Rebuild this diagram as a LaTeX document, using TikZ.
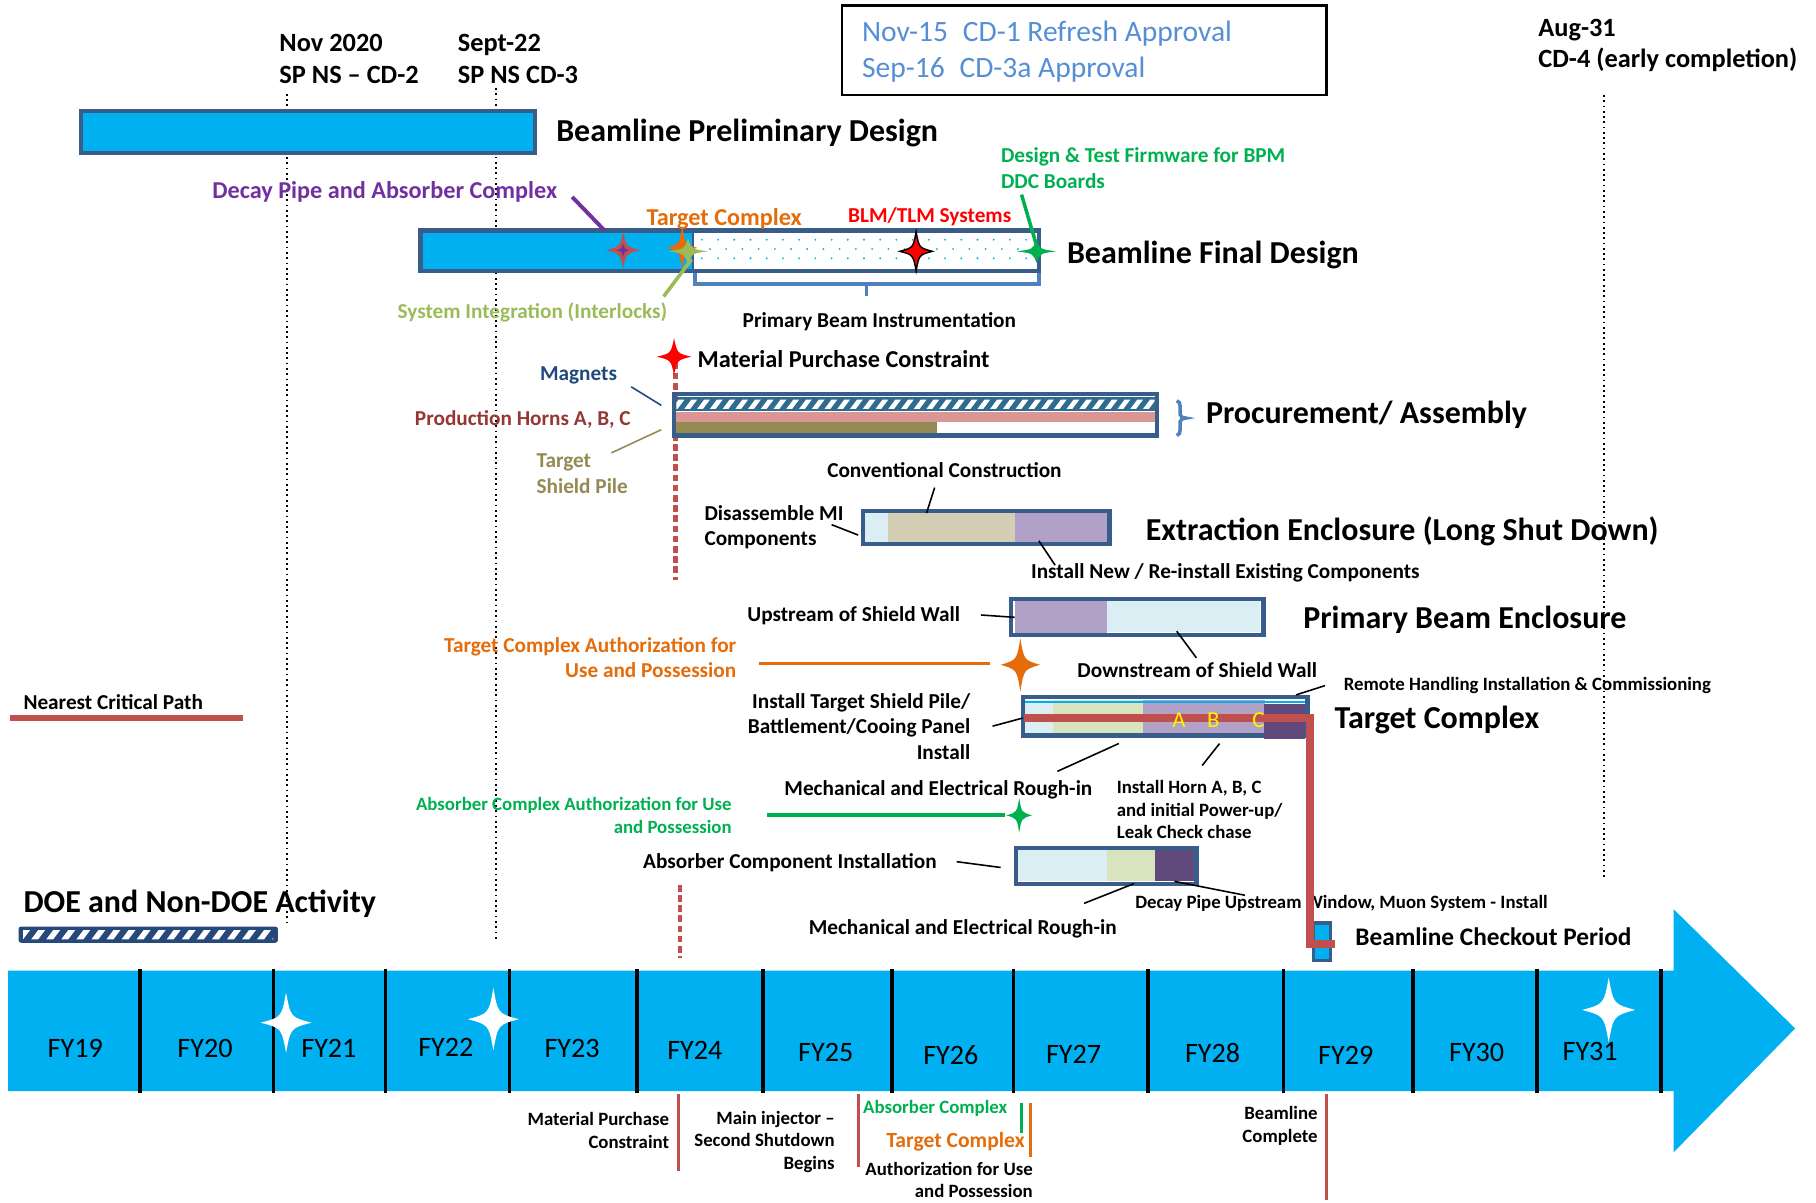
\documentclass[tikz,border=0pt]{standalone}
\usepackage{fontspec}
\setmainfont{Carlito}
\usetikzlibrary{calc}

\definecolor{axisblue}{HTML}{00B0F0}
\definecolor{barline}{HTML}{385D8A}
\definecolor{brblue}{HTML}{4F81BD}
\definecolor{boxtext}{HTML}{558ED5}
\definecolor{dpurple}{HTML}{7030A0}
\definecolor{tcorange}{HTML}{E46C0A}
\definecolor{bpmgreen}{HTML}{00B050}
\definecolor{sigreen}{HTML}{9BBB59}
\definecolor{magblue}{HTML}{1F497D}
\definecolor{hornred}{HTML}{953735}
\definecolor{pileolive}{HTML}{948A54}
\definecolor{critred}{HTML}{C0504D}
\definecolor{hatchblue}{HTML}{2E6B8F}
\definecolor{doenavy}{HTML}{24497A}
\definecolor{pinkband}{HTML}{D99694}
\definecolor{ltblue}{HTML}{DAEEF3}
\definecolor{beige}{HTML}{D4CFB4}
\definecolor{lavender}{HTML}{B2A1C7}
\definecolor{ltgreen}{HTML}{D7E4BD}
\definecolor{dkpurple}{HTML}{604A7B}

\tikzset{
  big/.style={font=\bfseries\fontsize{18.2}{21}\selectfont},
  mid/.style={font=\bfseries\fontsize{15}{17.8}\selectfont},
  lbl/.style={font=\bfseries\fontsize{12.1}{14.5}\selectfont},
  bigger/.style={font=\bfseries\fontsize{13.8}{16}\selectfont},
  small/.style={font=\bfseries\fontsize{10.7}{12.8}\selectfont},
  fy/.style={font=\fontsize{16}{19}\selectfont},
  bar/.style={draw=barline, line width=2.4pt},
  lead/.style={line width=0.9pt},
  critpath/.style={critred, line width=4.2pt},
  redmark/.style={critred, line width=1.6pt},
  every node/.style={inner sep=0pt},
}

% four point star: x, y, half width, half height, options
\newcommand{\sparkle}[5]{%
  \path[#5] (#1,#2-#4) .. controls (#1+0.18*#3,#2-0.18*#4) .. (#1+#3,#2)
    .. controls (#1+0.18*#3,#2+0.18*#4) .. (#1,#2+#4)
    .. controls (#1-0.18*#3,#2+0.18*#4) .. (#1-#3,#2)
    .. controls (#1-0.18*#3,#2-0.18*#4) .. (#1,#2-#4) -- cycle;}

\begin{document}
\begin{tikzpicture}[x=0.023163cm,y=-0.023163cm]
\useasboundingbox (0,0) rectangle (1568,1038);

% milestone date lines
\draw[dotted, line width=1pt] (248,81) -- (248,797);
\draw[dotted, line width=1pt] (428,76) -- (428,811);
\draw[dotted, line width=1pt] (1385,82) -- (1385,757);

\node[mid, anchor=west, align=left] (cd2) at (241,51) {Nov 2020\\SP NS -- CD-2};
\node[mid, anchor=west, align=left] (cd3) at (395,51) {Sept-22\\SP NS CD-3};
\node[mid, anchor=west, align=left] (cd4) at (1328,39) {Aug-31\\CD-4 (early completion)};

\draw[line width=1.6pt] (727,5) rectangle (1145,82);
\node[anchor=west, boxtext, font=\fontsize{16.8}{18}\selectfont] (cd1) at (744,29) {Nov-15\enspace CD-1 Refresh Approval};
\node[anchor=west, boxtext, font=\fontsize{16.8}{18}\selectfont] (cd3a) at (744,60) {Sep-16\enspace CD-3a Approval};

% preliminary design
\draw[bar, fill=axisblue] (70,96) rectangle (462,132);
\node[big, anchor=west] (prelim) at (480,115) {Beamline Preliminary Design};

% final design
\draw[brblue, line width=2pt] (600,201) -- (600,245) -- (897,245) -- (897,201);
\draw[brblue, line width=2pt] (748,245) -- (748,256);
\fill[axisblue] (363,199) rectangle (598,234);
\fill[white] (598,199) rectangle (897,234);
\foreach \y/\s in {207/0,215/7,223/0}
  \foreach \x in {606,620,...,890}
    \fill[axisblue] (\x+\s,\y) circle (0.9);
\draw[barline, line width=1.2pt] (598,199) -- (598,234);
\draw[bar] (363,199) rectangle (897,234);
\node[big, anchor=west] (final) at (921,220) {Beamline Final Design};
\node[lbl, anchor=west] (pbi) at (641,278) {Primary Beam Instrumentation};

\node[bigger, anchor=west, dpurple] (decay) at (183,166) {Decay Pipe and Absorber Complex};
\coordinate (decayA) at (494,170);
\coordinate (decayB) at (522,199);
\draw[dpurple, line width=2.2pt] (decayA) -- (decayB);
\node[bigger, anchor=west, tcorange] (tgt) at (558,189) {Target Complex};
\node[lbl, anchor=west, red] (blm) at (732,187) {BLM/TLM Systems};
\node[lbl, anchor=west, align=left, bpmgreen] (bpm) at (864,145) {Design \& Test Firmware for BPM\\DDC Boards};
\coordinate (bpmA) at (882,168);
\coordinate (bpmB) at (895,212);
\draw[bpmgreen, line width=2pt] (bpmA) -- (bpmB);
\node[lbl, anchor=west, sigreen] (sysint) at (343,270) {System Integration (Interlocks)};
\coordinate (sysA) at (573,256);
\coordinate (sysB) at (597,224);
\draw[sigreen, line width=2pt] (sysA) -- (sysB);

\sparkle{538}{216}{15}{16}{fill=critred}
\sparkle{538}{216}{6}{6}{fill=dpurple}
\sparkle{589}{214}{13}{19}{fill=tcorange}
\sparkle{594}{217}{17}{11}{fill=sigreen}
\sparkle{791}{217}{14}{17}{fill=red, draw=black, line width=0.8pt}
\sparkle{895}{217}{17}{10}{fill=bpmgreen}

% procurement / assembly
\draw[critred, dashed, dash pattern=on 3.8pt off 2pt, line width=2.6pt] (583,313) -- (583,501);
\draw[critred, dashed, dash pattern=on 3.8pt off 2pt, line width=2.6pt] (587,764) -- (587,827);
\sparkle{582}{308}{15}{16}{fill=red}
\node[bigger, anchor=west] (mpc) at (602,310) {Material Purchase Constraint};

\fill[hatchblue] (582,343) rectangle (999,355);
\begin{scope}
  \clip (584,345) rectangle (997,353);
  \foreach \x in {580,591,...,1000}
    \fill[white] (\x,353) -- (\x+5,353) -- (\x+11,345) -- (\x+6,345) -- cycle;
\end{scope}
\fill[pinkband] (582,356) rectangle (1001,364);
\fill[pileolive] (583,364) rectangle (809,374);
\draw[bar] (582,340) rectangle (999,376);
\draw[brblue, line width=2pt] (1016,346) to[out=0,in=90] (1019,351) -- (1019,358)
  to[out=-90,in=180] (1024,361) to[out=180,in=90] (1019,364) -- (1019,371)
  to[out=-90,in=0] (1016,376);
\node[big, anchor=west] (proc) at (1041,358) {Procurement/ Assembly};

\node[lbl, anchor=west, magblue] (mag) at (466,324) {Magnets};
\coordinate (magA) at (545,334);
\coordinate (magB) at (571,350);
\draw[lead, magblue] (magA) -- (magB);
\node[lbl, anchor=west, hornred] (horn) at (358,362) {Production Horns A, B, C};
\node[lbl, anchor=west, align=left, pileolive] (pile) at (463,409) {Target\\Shield Pile};
\coordinate (pileA) at (528,391);
\coordinate (pileB) at (571,371);
\draw[lead, pileolive] (pileA) -- (pileB);

% extraction enclosure
\fill[ltblue] (745,442) rectangle (767,469);
\fill[beige] (767,442) rectangle (876,469);
\fill[lavender] (876,442) rectangle (957,469);
\draw[bar] (745,441) rectangle (958,470);
\node[big, anchor=west] (extr) at (989,459) {Extraction Enclosure (Long Shut Down)};
\node[lbl, anchor=west] (conv) at (714,406) {Conventional Construction};
\coordinate (convA) at (807,421);
\coordinate (convB) at (800,443);
\draw[lead] (convA) -- (convB);
\node[lbl, anchor=west, align=left] (disas) at (608,455) {Disassemble MI\\Components};
\coordinate (disA) at (718,453);
\coordinate (disB) at (741,462);
\draw[lead] (disA) -- (disB);
\node[lbl, anchor=west] (inst) at (890,495) {Install New / Re-install Existing Components};
\coordinate (instA) at (897,467);
\coordinate (instB) at (911,488);
\draw[lead] (instA) -- (instB);

% primary beam enclosure
\fill[lavender] (876,518) rectangle (956,549);
\fill[ltblue] (956,518) rectangle (1088,546);
\draw[bar] (873,517) rectangle (1091,548);
\node[big, anchor=west] (pbe) at (1125,535) {Primary Beam Enclosure};
\node[lbl, anchor=west] (up) at (645,532) {Upstream of Shield Wall};
\coordinate (upA) at (847,531);
\coordinate (upB) at (876,533);
\draw[lead] (upA) -- (upB);
\node[lbl, anchor=west] (down) at (930,579) {Downstream of Shield Wall};
\coordinate (downA) at (1016,545);
\coordinate (downB) at (1033,568);
\draw[lead] (downA) -- (downB);

\node[lbl, anchor=east, align=right, tcorange] (tcauth) at (636,568) {Target Complex Authorization for\\Use and Possession};
\coordinate (tcA) at (655,573);
\coordinate (tcB) at (855,573);
\draw[tcorange, line width=1.3pt] (tcA) -- (tcB);
\sparkle{881}{574}{17}{23}{fill=tcorange}

% critical path legend
\node[lbl, anchor=west] (ncp) at (20,606) {Nearest Critical Path};
\coordinate (ncpA) at (9,620);
\coordinate (ncpB) at (210,620);
\draw[critred, line width=3.2pt] (ncpA) -- (ncpB);

% target complex
\fill[ltblue] (884,604) rectangle (909,634);
\fill[ltgreen] (909,604) rectangle (987,634);
\fill[lavender] (987,604) rectangle (1092,634);
\draw[bar] (883,602) rectangle (1129,635);
\fill[axisblue] (885,605) rectangle (1127,607);
\fill[dkpurple] (1091,608) rectangle (1127,638);
\coordinate (cpA) at (884,620);
\coordinate (cpB) at (1131,620);
\coordinate (cpC) at (1131,815);
\node[big, anchor=west] (tcx) at (1152,622) {Target Complex};
\node[small, anchor=west] (rh) at (1160,592) {Remote Handling Installation \& Commissioning};
\coordinate (rhA) at (1119,600);
\coordinate (rhB) at (1144,592);
\draw[lead] (rhA) -- (rhB);
\node[lbl, anchor=east, align=right] (tsp) at (838,627) {Install Target Shield Pile/\\Battlement/Cooing Panel\\Install};
\coordinate (tspA) at (857,627);
\coordinate (tspB) at (883,620);
\draw[lead] (tspA) -- (tspB);
\node[lbl, anchor=west] (mer1) at (677,682) {Mechanical and Electrical Rough-in};
\coordinate (merA) at (913,666);
\coordinate (merB) at (966,642);
\draw[lead] (merA) -- (merB);
\node[small, anchor=west, align=left] (ihorn) at (964,699) {Install Horn A, B, C\\and initial Power-up/\\Leak Check chase};
\coordinate (ihA) at (1038,661);
\coordinate (ihB) at (1053,642);
\draw[lead] (ihA) -- (ihB);

\node[small, anchor=east, align=right, bpmgreen] (acauth) at (632,704) {Absorber Complex Authorization for Use\\and Possession};
\coordinate (acA) at (662,704);
\coordinate (acB) at (868,704);
\draw[bpmgreen, line width=2.4pt] (acA) -- (acB);
\sparkle{880}{704}{11}{15}{fill=bpmgreen}

% absorber
\fill[ltblue] (878,734) rectangle (956,761);
\fill[ltgreen] (956,734) rectangle (997,761);
\fill[dkpurple] (997,734) rectangle (1032,761);
\draw[bar] (877,732) rectangle (1033,763);
\node[lbl, anchor=west] (abs) at (555,745) {Absorber Component Installation};
\coordinate (absA) at (826,744);
\coordinate (absB) at (864,749);
\draw[lead] (absA) -- (absB);
\node[small, anchor=west] (muon) at (980,780) {Decay Pipe Upstream Window, Muon System - Install};
\coordinate (muA) at (1014,761);
\coordinate (muB) at (1075,773);
\draw[lead] (muA) -- (muB);
\node[lbl, anchor=west] (mer2) at (698,802) {Mechanical and Electrical Rough-in};
\coordinate (mer2A) at (936,780);
\coordinate (mer2B) at (979,763);
\draw[lead] (mer2A) -- (mer2B);

% checkout and critical path
\draw[draw=barline, line width=1.8pt, fill=axisblue] (1134,797) rectangle (1149,829);
\coordinate (cpD) at (1153,815);
\draw[critpath] (cpA) -- (cpB) -- (cpC) -- (cpD);
\node[anchor=west, yellow, font=\fontsize{13}{14}\selectfont] (hA) at (1012,622) {A};
\node[anchor=west, yellow, font=\fontsize{13}{14}\selectfont] (hB) at (1042,622) {B};
\node[anchor=west, yellow, font=\fontsize{13}{14}\selectfont] (hC) at (1081,622) {C};
\node[font=\bfseries\fontsize{14.4}{16}\selectfont, anchor=west] (chk) at (1170,809) {Beamline Checkout Period};

% DOE legend
\node[big, anchor=west] (doe) at (20,780) {DOE and Non-DOE Activity};
\fill[doenavy, rounded corners=1.5pt] (16,800) rectangle (240,814);
\begin{scope}
  \clip (20,803) rectangle (236,811);
  \foreach \x in {14,27,...,240}
    \fill[white] (\x,811) -- (\x+6,811) -- (\x+12,803) -- (\x+6,803) -- cycle;
\end{scope}

% time axis
\fill[axisblue] (7,838) -- (1445,838) -- (1445,785) -- (1550,888) -- (1445,995)
  -- (1445,942) -- (7,942) -- cycle;
\foreach \x in {121,236,333,440,550,659,770,875,991,1108,1220,1327,1434}
  \draw[line width=2pt] (\x,837) -- (\x,944);
\foreach \x/\y/\t in {65/905/19,177/905/20,284/905/21,385/904/22,494/905/23,600/907/24,713/909/25,821/911/26,927/910/27,1047/909/28,1162/911/29,1275/909/30,1373/908/31}
  \node[fy] (fy\t) at (\x,\y) {FY\t};
\sparkle{247}{883}{22}{26}{fill=white}
\sparkle{426}{880}{22}{27}{fill=white}
\sparkle{1389}{872}{23}{28}{fill=white}

% below axis
\node[small, anchor=east, align=right] (mpc2) at (578,976) {Material Purchase\\Constraint};
\coordinate (m1A) at (586,945); \coordinate (m1B) at (586,1011);
\draw[redmark] (m1A) -- (m1B);
\node[small, anchor=east, align=right] (mi) at (721,986) {Main injector --\\Second Shutdown\\Begins};
\coordinate (m2A) at (741,945); \coordinate (m2B) at (741,1008);
\draw[redmark] (m2A) -- (m2B);
\node[small, anchor=west, bpmgreen] (absc) at (745,957) {Absorber Complex};
\coordinate (m3A) at (882,952); \coordinate (m3B) at (882,978);
\draw[bpmgreen, line width=1.8pt] (m3A) -- (m3B);
\node[font=\bfseries\fontsize{12.3}{14}\selectfont, anchor=west, tcorange] (tgtc) at (765,986) {Target Complex};
\coordinate (m4A) at (890,952); \coordinate (m4B) at (890,999);
\draw[tcorange, line width=1.8pt] (m4A) -- (m4B);
\node[small, anchor=east, align=right, font=\bfseries\fontsize{10.7}{12.3}\selectfont] (auth) at (892,1019) {Authorization for Use\\and Possession};
\node[small, anchor=east, align=right] (blc) at (1138,972) {Beamline\\Complete};
\coordinate (m5A) at (1145,945); \coordinate (m5B) at (1145,1036);
\draw[redmark] (m5A) -- (m5B);
\end{tikzpicture}
\end{document}
